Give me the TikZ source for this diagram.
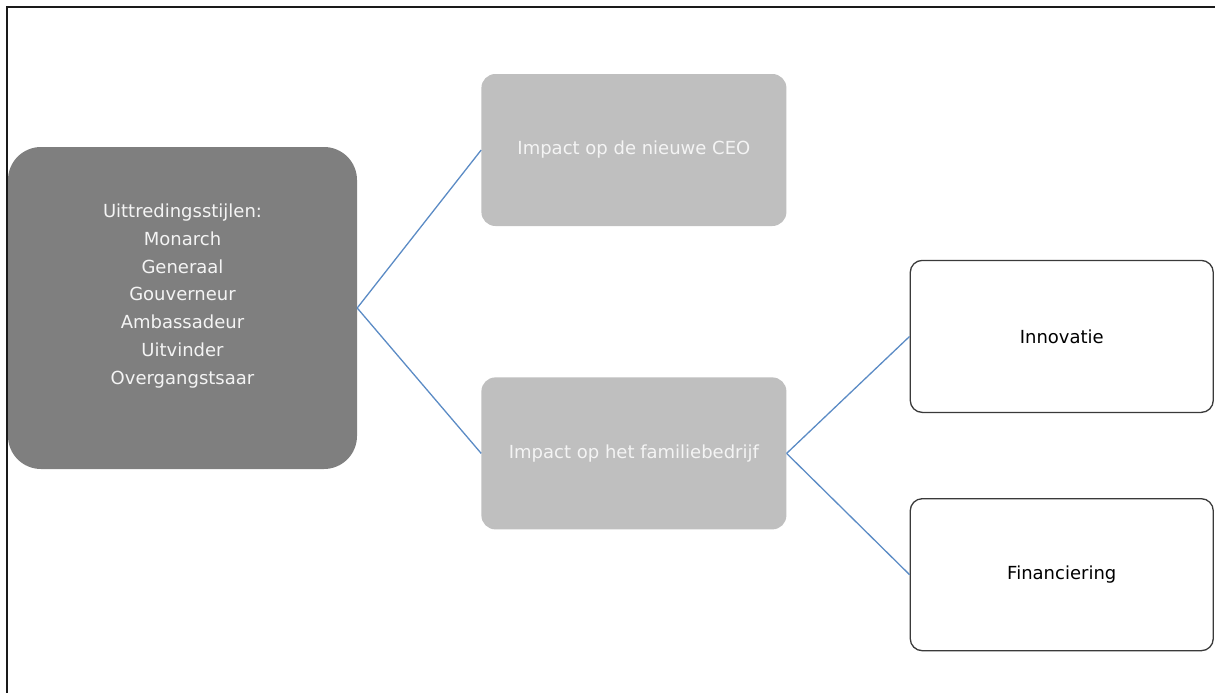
\documentclass[tikz,border=0pt]{standalone}
\usepackage{fontspec}
\setmainfont{DejaVu Sans}
\usetikzlibrary{positioning}
\definecolor{darkbox}{HTML}{7F7F7F}
\definecolor{midbox}{HTML}{BFBFBF}
\definecolor{lightink}{HTML}{F4F4F4}
\definecolor{edge}{HTML}{3A3A3A}
\definecolor{link}{HTML}{5B8BC5}
\definecolor{framecol}{HTML}{1A1A1A}
\begin{document}
\begin{tikzpicture}[x=1pt,y=-1pt,
  font=\fontsize{18}{27.7}\selectfont,
  box/.style={rounded corners=14pt,align=center,inner sep=0pt,minimum width=305pt,minimum height=152pt},
  stylebox/.style={box,fill=darkbox,text=lightink,rounded corners=33pt,minimum width=349pt,minimum height=322pt},
  impact/.style={box,fill=midbox,text=lightink},
  effect/.style={box,draw=edge,fill=white,text=black,line width=1.3pt,rounded corners=12pt,minimum width=303pt},
  ln/.style={link,line width=1.3pt}]

\useasboundingbox (0,0) rectangle (1215,693);
\clip (0,0) rectangle (1215,693);

% frame
\draw[framecol,line width=2pt] (6.5,700) -- (6.5,7.3) -- (1225,7.3);

% left block
\node[stylebox] (uit) at (182.5,308)
  {Uittredingsstijlen:\\Monarch\\Generaal\\Gouverneur\\Ambassadeur\\Uitvinder\\Overgangstsaar\\\mbox{}};

% middle column
\node[impact,right=124pt of uit,yshift=158pt] (ceo) {Impact op de nieuwe CEO};
\node[impact,below=151pt of ceo] (fam) {Impact op het familiebedrijf};

% right column
\node[effect,right=123pt of fam,yshift=117pt] (inn) {Innovatie};
\node[effect,below=85pt of inn] (fin) {Financiering};

\draw[ln] (uit.east) -- (ceo.west);
\draw[ln] (uit.east) -- (fam.west);
\draw[ln] (fam.east) -- (inn.west);
\draw[ln] (fam.east) -- (fin.west);
\end{tikzpicture}
\end{document}
